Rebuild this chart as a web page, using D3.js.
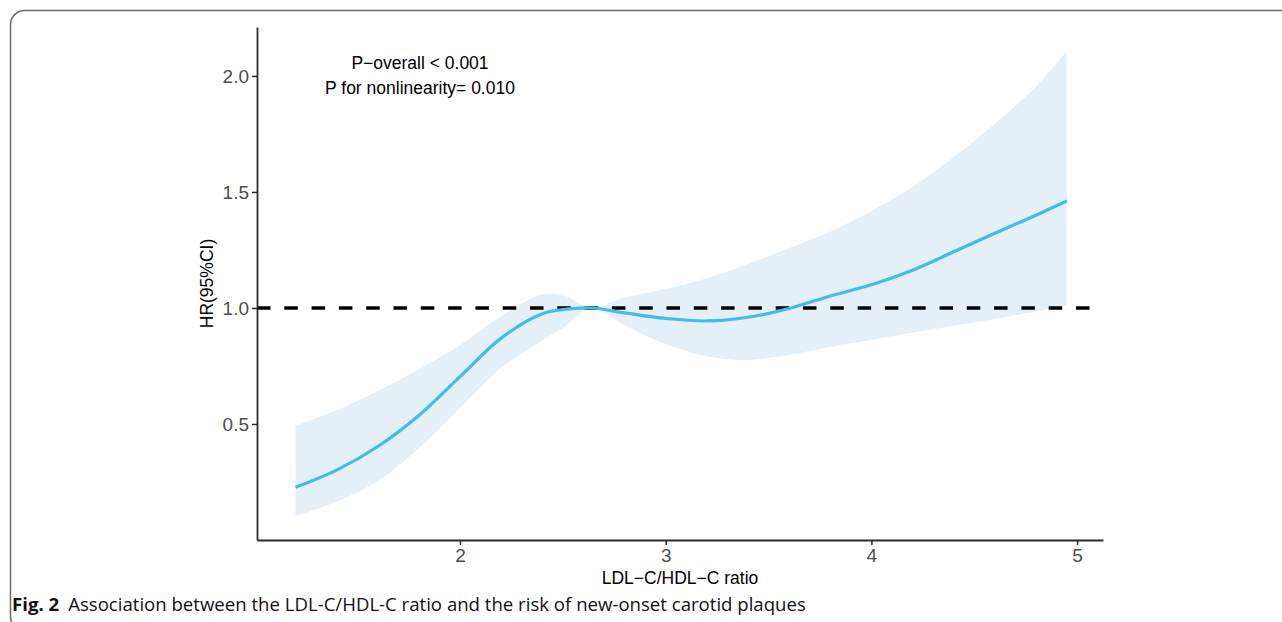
<!DOCTYPE html>
<html>
<head>
<meta charset="utf-8">
<script src="https://cdn.jsdelivr.net/npm/d3@7"></script>
<style>
  html, body { margin: 0; padding: 0; background: #fff; }
  svg { display: block; }
</style>
</head>
<body>
<svg id="chart" width="1282" height="622"></svg>
<script>
// ---- data ----
const xValues = [1.2, 1.4, 1.6, 1.8, 2.0, 2.2, 2.4, 2.5, 2.64, 2.8, 3.0, 3.2, 3.4, 3.6, 3.8, 4.0, 4.2, 4.4, 4.6, 4.8, 4.95];
const hrValues = [0.227, 0.301, 0.403, 0.537, 0.704, 0.870, 0.975, 0.993, 1.0, 0.979, 0.955, 0.944, 0.960, 0.998, 1.052, 1.100, 1.163, 1.242, 1.322, 1.400, 1.461];
const upperValues = [0.491, 0.559, 0.642, 0.736, 0.839, 0.965, 1.058, 1.055, 1.0, 1.045, 1.082, 1.128, 1.190, 1.258, 1.330, 1.418, 1.521, 1.650, 1.793, 1.955, 2.108];
const lowerValues = [0.103, 0.165, 0.254, 0.396, 0.570, 0.742, 0.860, 0.914, 1.0, 0.925, 0.845, 0.792, 0.776, 0.798, 0.832, 0.863, 0.893, 0.923, 0.953, 0.985, 1.013];
const xTicks = [2, 3, 4, 5];
const yTicks = [0.5, 1.0, 1.5, 2.0];
const refValue = 1.0;
const annotations = ["P\u2212overall < 0.001", "P for nonlinearity= 0.010"];
const xTitle = "LDL\u2212C/HDL\u2212C ratio";
const yTitle = "HR(95%CI)";
const captionBold = "Fig. 2";
const captionText = "Association between the LDL-C/HDL-C ratio and the risk of new-onset carotid plaques";

const rows = xValues.map((x, i) => ({x, hr: hrValues[i], lo: lowerValues[i], hi: upperValues[i]}));

const svg = d3.select("#chart");

// outer frame
svg.append("rect")
  .attr("x", 10.5).attr("y", 10.5)
  .attr("width", 1320).attr("height", 620)
  .attr("rx", 14).attr("ry", 14)
  .attr("fill", "none").attr("stroke", "#6b6b6b").attr("stroke-width", 1.5);

const panel = {left: 257, right: 1103, top: 27, bottom: 540};
const x = d3.scaleLinear().domain([1.013, 5.126]).range([panel.left, panel.right]);
const y = d3.scaleLinear().domain([0, 2.211]).range([panel.bottom, panel.top]);

svg.append("clipPath").attr("id", "clip")
  .append("rect").attr("x", panel.left).attr("y", panel.top)
  .attr("width", panel.right - panel.left).attr("height", panel.bottom - panel.top);

const g = svg.append("g").attr("clip-path", "url(#clip)");
const smooth = d3.curveCatmullRom.alpha(0.5);

// ribbon
g.append("path")
  .datum(rows)
  .attr("fill", "#e4eff8")
  .attr("d", d3.area().curve(smooth)
    .x(d => x(d.x)).y0(d => y(d.lo)).y1(d => y(d.hi)));

// reference line
g.append("line")
  .attr("x1", panel.left).attr("x2", panel.right)
  .attr("y1", y(refValue)).attr("y2", y(refValue))
  .attr("stroke", "#000").attr("stroke-width", 3.6)
  .attr("stroke-dasharray", "13.5,13.8");

// HR curve
g.append("path")
  .datum(rows)
  .attr("fill", "none")
  .attr("stroke", "#40bdec")
  .attr("stroke-width", 3.2)
  .attr("d", d3.line().curve(smooth).x(d => x(d.x)).y(d => y(d.hr)));

// axes
const fontAxis = "'Liberation Sans', Arial, sans-serif";
const xAxis = svg.append("g")
  .attr("transform", `translate(0,${panel.bottom})`)
  .call(d3.axisBottom(x).tickValues(xTicks).tickFormat(d3.format("d")).tickSize(5).tickPadding(4).tickSizeOuter(0));
const yAxis = svg.append("g")
  .attr("transform", `translate(${panel.left},0)`)
  .call(d3.axisLeft(y).tickValues(yTicks).tickFormat(d3.format(".1f")).tickSize(5).tickPadding(3).tickSizeOuter(0));

[xAxis, yAxis].forEach(a => {
  a.select(".domain").attr("stroke", "#2b2b2b").attr("stroke-width", 1.8);
  a.selectAll(".tick line").attr("stroke", "#2b2b2b").attr("stroke-width", 1.5);
  a.selectAll(".tick text").attr("fill", "#4d4d4d")
    .style("font-family", fontAxis).style("font-size", "19px");
});

// axis titles
svg.append("text")
  .attr("x", (panel.left + panel.right) / 2).attr("y", 584)
  .attr("text-anchor", "middle")
  .style("font-family", fontAxis).style("font-size", "17.5px").attr("fill", "#000")
  .text(xTitle);
svg.append("text")
  .attr("transform", `translate(213,${(panel.top + panel.bottom) / 2}) rotate(-90)`)
  .attr("text-anchor", "middle")
  .style("font-family", fontAxis).style("font-size", "17.5px").attr("fill", "#000")
  .text(yTitle);

// annotations
annotations.forEach((t, i) => {
  svg.append("text")
    .attr("x", 420).attr("y", 69 + i * 25)
    .attr("text-anchor", "middle")
    .style("font-family", fontAxis).style("font-size", "17.5px").attr("fill", "#000")
    .text(t);
});

// caption
const cap = svg.append("text")
  .attr("x", 12).attr("y", 611)
  .style("font-family", "'Open Sans', 'Noto Sans', sans-serif").style("font-size", "18.6px").attr("fill", "#111");
cap.append("tspan").style("font-weight", "bold").text(captionBold);
cap.append("tspan").attr("dx", 9).text(captionText);
</script>
</body>
</html>
